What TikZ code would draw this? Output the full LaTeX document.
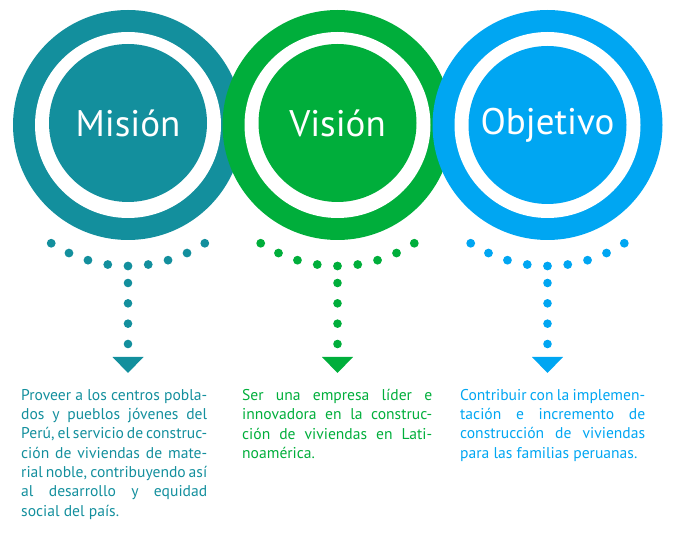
\documentclass[tikz,border=0pt]{standalone}
\usepackage{fontspec}
\setmainfont{PT Sans}
\usetikzlibrary{positioning}
\definecolor{mcolor}{HTML}{138F9D}
\definecolor{vcolor}{HTML}{00AE3B}
\definecolor{ocolor}{HTML}{00A6F2}

\begin{document}
\begin{tikzpicture}[x=1pt,y=-1pt]
\useasboundingbox (0,0) rectangle (675,534);
\tikzset{
  CirculoStyle/.style = {circle, inner sep=0pt, minimum size=230pt},
  AnilloStyle/.style  = {circle, inner sep=0pt, minimum size=186pt, fill=white},
  CentroStyle/.style  = {circle, inner sep=0pt, minimum size=158pt,
                         text=white, font=\fontsize{37}{44}\selectfont},
  TextoStyle/.style   = {text width=186pt, align=justify, inner sep=0pt,
                         anchor=north west, font=\fontsize{15.6}{19.3}\selectfont},
  PuntosStyle/.style  = {line width=8.6pt, line cap=round,
                         dash pattern=on 0pt off 20.33pt},
}

  % mision
  \begin{scope}
    \colorlet{Col}{mcolor}
    \node[CirculoStyle, fill=Col] (M) at (128,125) {};
    \node[AnilloStyle] at (M) {};
    \node[CentroStyle, fill=Col] (Mc) at ([yshift=2pt]M) {Misión};
    \foreach \a in {-4,...,4}
      \fill[Col] (M) ++({90+8.25*\a}:141) circle (4.4);
    \coordinate[below=158pt of M.center] (Mp);
    \coordinate[below=232pt of M.center] (Mf);
    \draw[PuntosStyle, Col] (Mp) -- (Mf);
    \fill[Col] (Mf) ++(-15.5,0) -- ++(31,0) -- ++(-15.5,16) -- cycle;
  \end{scope}

  % vision
  \begin{scope}
    \colorlet{Col}{vcolor}
    \node[CirculoStyle, fill=Col] (V) at (337.5,125) {};
    \node[AnilloStyle] at (V) {};
    \node[CentroStyle, fill=Col] (Vc) at ([yshift=2pt]V) {Visión};
    \foreach \a in {-4,...,4}
      \fill[Col] (V) ++({90+8.25*\a}:141) circle (4.4);
    \coordinate[below=158pt of V.center] (Vp);
    \coordinate[below=232pt of V.center] (Vf);
    \draw[PuntosStyle, Col] (Vp) -- (Vf);
    \fill[Col] (Vf) ++(-15.5,0) -- ++(31,0) -- ++(-15.5,16) -- cycle;
  \end{scope}

  % objetivo
  \begin{scope}
    \colorlet{Col}{ocolor}
    \node[CirculoStyle, fill=Col] (O) at (547.5,125) {};
    \node[AnilloStyle] at (O) {};
    \node[CentroStyle, fill=Col] (Oc) at (O) {Objetivo};
    \foreach \a in {-4,...,4}
      \fill[Col] (O) ++({90+8.25*\a}:141) circle (4.4);
    \coordinate[below=158pt of O.center] (Op);
    \coordinate[below=232pt of O.center] (Of);
    \draw[PuntosStyle, Col] (Op) -- (Of);
    \fill[Col] (Of) ++(-15.5,0) -- ++(31,0) -- ++(-15.5,16) -- cycle;
  \end{scope}

  % textos
  \node[TextoStyle, text=mcolor] (Mt) at (21,389) {Proveer a los centros pobla-\linebreak
    dos y pueblos jóvenes del\linebreak Perú, el servicio de construc-\linebreak
    ción de viviendas de mate-\linebreak rial noble, contribuyendo así\linebreak
    al desarrollo y equidad\linebreak social del país.};
  \node[TextoStyle, text=vcolor, text width=190pt] (Vt) at (242,389) {Ser una empresa
    líder e\linebreak innovadora en la construc-\linebreak ción de viviendas en
    Lati-\linebreak noamérica.};
  \node[TextoStyle, text=ocolor, text width=185pt] (Ot) at (460,389) {Contribuir con la
    implemen-\linebreak tación e incremento de\linebreak construcción de
    viviendas\linebreak para las familias peruanas.};

\end{tikzpicture}
\end{document}
